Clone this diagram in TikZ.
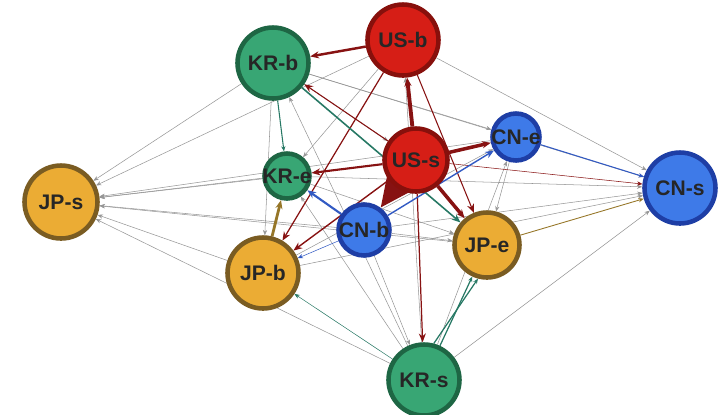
\documentclass[tikz,border=0pt]{standalone}
\usepackage{fontspec}
\setmainfont{Liberation Sans}
\usetikzlibrary{arrows.meta,backgrounds}
\definecolor{usfill}{RGB}{214,30,22}
\definecolor{usline}{RGB}{135,16,12}
\definecolor{krfill}{RGB}{56,166,116}
\definecolor{krline}{RGB}{30,102,68}
\definecolor{jpfill}{RGB}{235,172,52}
\definecolor{jpline}{RGB}{122,92,34}
\definecolor{cnfill}{RGB}{62,122,232}
\definecolor{cnline}{RGB}{30,62,165}
\definecolor{redge}{RGB}{135,18,18}
\definecolor{gedge}{RGB}{38,120,100}
\definecolor{bedge}{RGB}{50,90,195}
\definecolor{oedge}{RGB}{150,118,40}
\definecolor{thinedge}{RGB}{150,150,150}
\tikzset{
  ctry/.style={circle, line width=2.6pt, inner sep=0pt},
  usn/.style={ctry, fill=usfill, draw=usline},
  krn/.style={ctry, fill=krfill, draw=krline},
  jpn/.style={ctry, fill=jpfill, draw=jpline},
  cnn/.style={ctry, fill=cnfill, draw=cnline},
  link/.style={-{Stealth[length=5pt,width=4pt]}},
  thinlink/.style={-{Stealth[length=3pt,width=2.4pt]}, line width=0.3pt, thinedge},
}
\begin{document}
\begin{tikzpicture}[x=0.02cm, y=-0.02cm,
  every label/.style={font=\bfseries\fontsize{12}{12}\selectfont, text=black!85}]
\useasboundingbox (0,0) rectangle (728,414);
% countries
\node[usn, minimum size=1.42cm, label=center:US-b] (USb) at (403,40) {};
\node[krn, minimum size=1.42cm, label=center:KR-b] (KRb) at (273,63) {};
\node[usn, minimum size=1.26cm, label=center:US-s] (USs) at (416,160) {};
\node[cnn, minimum size=0.94cm, label=center:CN-e] (CNe) at (516,137) {};
\node[cnn, minimum size=1.42cm, label=center:CN-s] (CNs) at (680,188) {};
\node[jpn, minimum size=1.46cm, label=center:JP-s] (JPs) at (61,202) {};
\node[krn, minimum size=0.90cm, label=center:KR-e] (KRe) at (287,176) {};
\node[cnn, minimum size=1.02cm, label=center:CN-b] (CNb) at (364,230) {};
\node[jpn, minimum size=1.30cm, label=center:JP-e] (JPe) at (487,245) {};
\node[jpn, minimum size=1.42cm, label=center:JP-b] (JPb) at (263,273) {};
\node[krn, minimum size=1.42cm, label=center:KR-s] (KRs) at (424,380) {};
\begin{scope}[on background layer]
% thin flows
\foreach \src in {KRb,USb,KRe,USs,CNe,CNb,JPe,JPb,KRs}
  \draw[thinlink] (\src) -- (JPs);
\foreach \src in {KRb,USb,KRe,CNb,JPb,KRs}
  \draw[thinlink] (\src) -- (CNs);
\foreach \a/\b in {KRs/KRb,KRs/KRe,KRs/CNe,KRs/USb,KRb/CNe,KRe/JPe,JPb/CNe,CNe/JPe,CNb/JPe,KRb/JPb,USb/KRe,CNb/KRs,KRb/USs}
  \draw[thinlink] (\a) -- (\b);
% red flows
\draw[link, redge, line width=1.4pt] (USb) -- (KRb);
\draw[link, redge, line width=2.2pt] (USs) -- (USb);
\draw[-{Triangle[length=17pt,width=15pt]}, redge, line width=3pt] (USs) -- (CNb);
\draw[link, redge, line width=2pt] (USs) -- (CNe);
\draw[link, redge, line width=2pt] (USs) -- (JPe);
\draw[link, redge, line width=1.2pt] (USs) -- (KRe);
\draw[link, redge, line width=0.8pt] (USs) -- (JPb);
\draw[link, redge, line width=0.7pt] (USb) -- (JPb);
\draw[link, redge, line width=0.7pt] (USs) -- (KRs);
\draw[link, redge, line width=0.6pt] (USb) -- (JPe);
\draw[link, redge, line width=0.6pt] (USs) -- (KRb);
\draw[thinlink, redge] (USs) -- (CNs);
% other flows
\draw[link, oedge, line width=1.6pt] (JPb) -- (KRe);
\draw[thinlink, oedge, line width=0.5pt] (JPe) -- (CNs);
\draw[link, bedge, line width=1.2pt] (CNb) -- (KRe);
\draw[link, bedge, line width=0.8pt] (CNb) -- (CNe);
\draw[thinlink, bedge, line width=0.6pt] (CNe) -- (CNs);
\draw[thinlink, bedge] (CNb) -- (JPb);
\draw[thinlink, gedge, line width=0.6pt] (KRb) -- (KRe);
\draw[link, gedge, line width=0.9pt] (KRb) -- (JPe);
\draw[thinlink, gedge, line width=0.7pt] (KRs.75) -- (JPe.255);
\draw[thinlink, gedge, line width=0.7pt] (KRs.65) -- (JPe.245);
\draw[thinlink, gedge] (KRs) -- (JPb);
\end{scope}
\end{tikzpicture}
\end{document}
